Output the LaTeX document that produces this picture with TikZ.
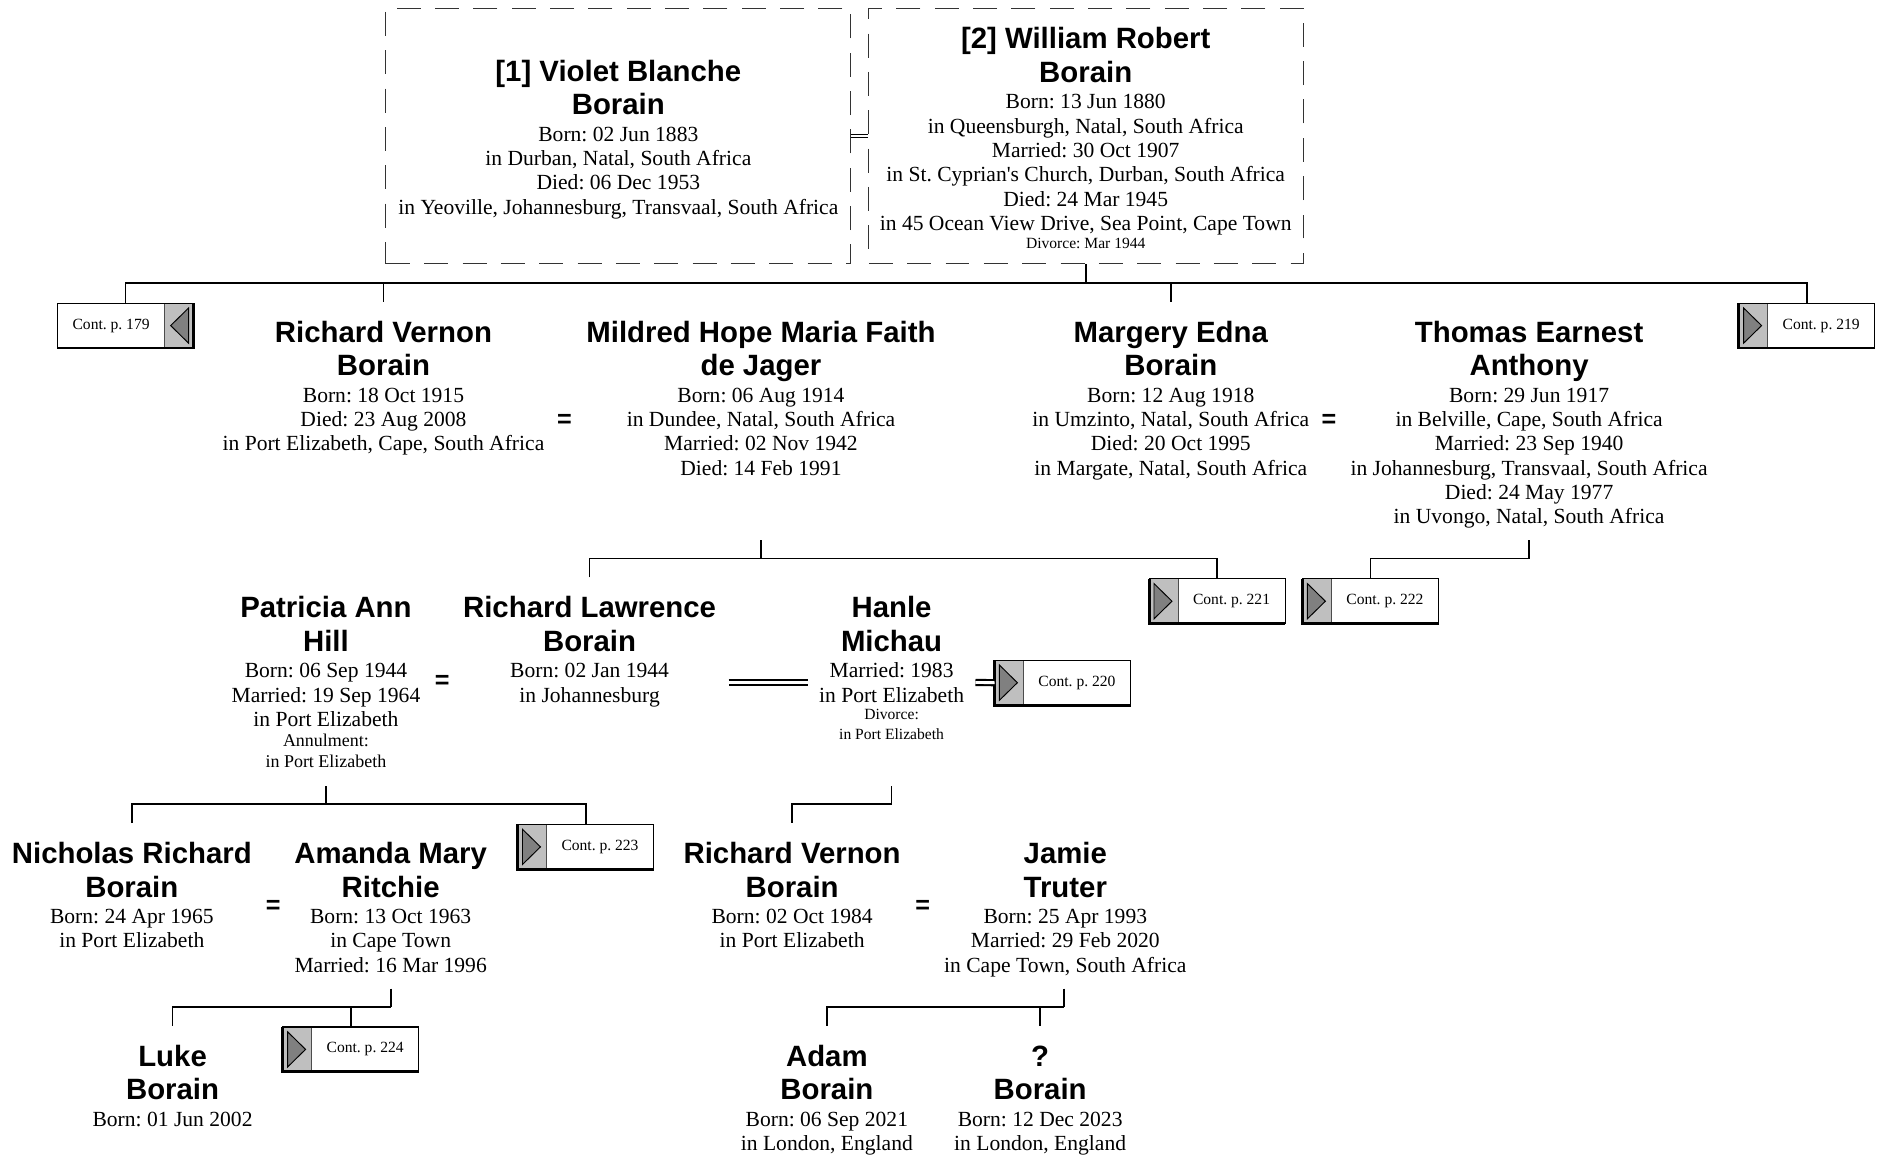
\documentclass[tikz,border=0pt]{standalone}
\usepackage{fontspec}
\setmainfont{Liberation Serif}
\newfontfamily\namefam{Liberation Sans}
\usetikzlibrary{calc}
\frenchspacing

\tikzset{
  nm/.style={font=\namefam\bfseries\fontsize{24.5}{28}\selectfont, align=center, inner sep=0pt, anchor=north},
  bd/.style={font=\fontsize{18}{20.3}\selectfont, align=center, inner sep=0pt, anchor=north},
  sm/.style={font=\fontsize{13}{17}\selectfont, align=center, inner sep=0pt, anchor=north},
  eqs/.style={font=\namefam\bfseries\fontsize{21}{21}\selectfont, inner sep=0pt},
  conn/.style={line width=1.5pt, black},
  dbox/.style={draw=black!80, line width=1pt, dash pattern=on 20pt off 12pt, minimum height=213pt, inner sep=0pt},
  dblthin/.style={double, line width=0.9pt, double distance=1.6pt},
  dblthick/.style={double, line width=1.8pt, double distance=2.4pt},
  cframe/.style={fill=white, minimum width=113pt, minimum height=37pt, inner sep=0pt, anchor=north west},
  cgrey/.style={fill=black!25},
  ctri/.style={fill=black!50, draw=black, line width=0.8pt, line join=miter},
  ctext/.style={font=\fontsize{13}{15}\selectfont, inner sep=0pt},
}

\newcommand\person[5]{%
  \node[nm] (#1) at (#2,#3-11.1) {\strut #4};
  \node[bd] (#1d) at (#2,#3+44.3) {\strut #5};
}
\newcommand\contR[4]{%
  \node[cframe] (#1) at (#2,#3) {};
  \fill[cgrey] (#1.north west) rectangle ([xshift=24pt]#1.south west);
  \draw[line width=0.8pt, black!70] ([xshift=24pt]#1.north west) -- ([xshift=24pt]#1.south west);
  \filldraw[ctri] ([xshift=4pt,yshift=-4pt]#1.north west) -- ([xshift=4pt,yshift=4pt]#1.south west) -- ([xshift=19pt]#1.west) -- cycle;
  \draw[line width=1pt] (#1.north west) rectangle (#1.south east);
  \draw[line width=2.4pt] (#1.north west) -- (#1.south west) -- (#1.south east);
  \node[ctext] (#1t) at ([xshift=12pt]#1.center) {#4};
}
\newcommand\contL[4]{%
  \node[cframe] (#1) at (#2,#3) {};
  \fill[cgrey] ([xshift=-24pt]#1.north east) rectangle (#1.south east);
  \draw[line width=0.8pt, black!70] ([xshift=-24pt]#1.north east) -- ([xshift=-24pt]#1.south east);
  \filldraw[ctri] ([xshift=-4pt,yshift=-4pt]#1.north east) -- ([xshift=-4pt,yshift=4pt]#1.south east) -- ([xshift=-19pt]#1.east) -- cycle;
  \draw[line width=1pt] (#1.north west) rectangle (#1.south east);
  \draw[line width=2.4pt] (#1.north east) -- (#1.south east) -- (#1.south west);
  \node[ctext] (#1t) at ([xshift=-12pt]#1.center) {#4};
}

\begin{document}
\begin{tikzpicture}[x=1pt,y=-1pt]
\useasboundingbox[fill=white] (0,0) rectangle (1568,965);

% ---- top couple (dashed boxes)
\node[dbox, minimum width=388pt] (box1) at (516,113.5) {};
\node[dbox, minimum width=363pt] (box2) at (906.5,113.5) {};
\draw[dblthin] (box1.east) -- (box2.west);

\person{vb}{516}{59}{[1] Violet Blanche\\Borain}{Born: 02 Jun 1883\\in Durban, Natal, South Africa\\Died: 06 Dec 1953\\in Yeoville, Johannesburg, Transvaal, South Africa}
\person{wr}{906}{32}{[2] William Robert\\Borain}{Born: 13 Jun 1880\\in Queensburgh, Natal, South Africa\\Married: 30 Oct 1907\\in St. Cyprian\textquotesingle s Church, Durban, South Africa\\Died: 24 Mar 1945\\in 45 Ocean View Drive, Sea Point, Cape Town}
\node[sm] (wrdiv) at (906,195.4) {\strut Divorce: Mar 1944};

% ---- row 2
\person{rv}{320}{277}{Richard Vernon\\Borain}{Born: 18 Oct 1915\\Died: 23 Aug 2008\\in Port Elizabeth, Cape, South Africa}
\node[eqs] (eq1) at (471,351) {=};
\person{mh}{635}{277}{Mildred Hope Maria Faith\\de Jager}{Born: 06 Aug 1914\\in Dundee, Natal, South Africa\\Married: 02 Nov 1942\\Died: 14 Feb 1991}
\person{me}{977}{277}{Margery Edna\\Borain}{Born: 12 Aug 1918\\in Umzinto, Natal, South Africa\\Died: 20 Oct 1995\\in Margate, Natal, South Africa}
\node[eqs] (eq2) at (1109,351) {=};
\person{ta}{1276}{277}{Thomas Earnest\\Anthony}{Born: 29 Jun 1917\\in Belville, Cape, South Africa\\Married: 23 Sep 1940\\in Johannesburg, Transvaal, South Africa\\Died: 24 May 1977\\in Uvongo, Natal, South Africa}
\contL{c179}{48}{253}{Cont. p. 179}
\contR{c219}{1451}{253}{Cont. p. 219}

% ---- row 3
\person{ph}{272}{507}{Patricia Ann\\Hill}{Born: 06 Sep 1944\\Married: 19 Sep 1964\\in Port Elizabeth}
\node[sm, font=\fontsize{15}{18}\selectfont] (phann) at (272,610) {\strut Annulment:\\in Port Elizabeth};
\node[eqs] (eq3) at (369,569) {=};
\person{rl}{492}{507}{Richard Lawrence\\Borain}{Born: 02 Jan 1944\\in Johannesburg}
\person{hm}{744}{507}{Hanle\\Michau}{Married: 1983\\in Port Elizabeth}
\node[sm, font=\fontsize{13}{16}\selectfont] (hmdiv) at (744,589.4) {\strut Divorce:\\in Port Elizabeth};
\coordinate (rlm) at (608,569.5);
\coordinate (hmm) at (674,569.5);
\draw[dblthick] (rlm) -- (hmm);
\contR{c221}{959}{483}{Cont. p. 221}
\contR{c222}{1087}{483}{Cont. p. 222}
\contR{c220}{830}{551}{Cont. p. 220}
\coordinate (hmc) at (814,569.5);
\draw[dblthick] (hmc) -- (c220.west);

% ---- row 4
\person{nr}{110}{712}{Nicholas Richard\\Borain}{Born: 24 Apr 1965\\in Port Elizabeth}
\node[eqs] (eq4) at (228,757) {=};
\person{am}{326}{712}{Amanda Mary\\Ritchie}{Born: 13 Oct 1963\\in Cape Town\\Married: 16 Mar 1996}
\person{rj}{661}{712}{Richard Vernon\\Borain}{Born: 02 Oct 1984\\in Port Elizabeth}
\node[eqs] (eq5) at (770,757) {=};
\person{jt}{889}{712}{Jamie\\Truter}{Born: 25 Apr 1993\\Married: 29 Feb 2020\\in Cape Town, South Africa}
\contR{c223}{432}{688}{Cont. p. 223}

% ---- row 5
\person{lb}{144}{881}{Luke\\Borain}{Born: 01 Jun 2002}
\person{ab}{690}{881}{Adam\\Borain}{Born: 06 Sep 2021\\in London, England}
\person{qb}{868}{881}{?\\Borain}{Born: 12 Dec 2023\\in London, England}
\contR{c224}{236}{857}{Cont. p. 224}

% ---- connectors
\coordinate (j1) at (906.5,236);
\draw[conn] (box2.south) -- (j1);
\draw[conn] (c179.north) |- (j1) -| (c219.north);
\draw[conn] ([yshift=14pt]rv.north) -- (rv.north |- j1);
\draw[conn] ([yshift=14pt]me.north) -- (me.north |- j1);

\coordinate (mhdrop) at (635,451);
\coordinate (j2) at (635,466);
\draw[conn] (mhdrop) -- (j2);
\draw[conn] ([yshift=14pt]rl.north) |- (j2) -| (c221.north);

\coordinate (tadrop) at (1276,451);
\coordinate (j3) at (1276,466);
\draw[conn] (tadrop) -- (j3) -| (c222.north);

\coordinate (phdrop) at (272,656);
\coordinate (j4) at (272,671);
\draw[conn] (phdrop) -- (j4);
\draw[conn] ([yshift=14pt]nr.north) |- (j4) -| (c223.north);

\coordinate (hmdrop) at (744,656);
\coordinate (j5) at (744,671);
\draw[conn] (hmdrop) -- (j5) -| ([yshift=14pt]rj.north);

\coordinate (amdrop) at (326,825);
\coordinate (j6) at (326,840);
\draw[conn] (amdrop) -- (j6);
\draw[conn] ([yshift=14pt]lb.north) |- (j6);
\draw[conn] (c224.north) -- (c224.north |- j6);

\coordinate (jtdrop) at (888,825);
\coordinate (j7) at (888,840);
\draw[conn] (jtdrop) -- (j7);
\draw[conn] ([yshift=14pt]ab.north) |- (j7);
\draw[conn] ([yshift=14pt]qb.north) -- (qb.north |- j7);
\end{tikzpicture}
\end{document}
